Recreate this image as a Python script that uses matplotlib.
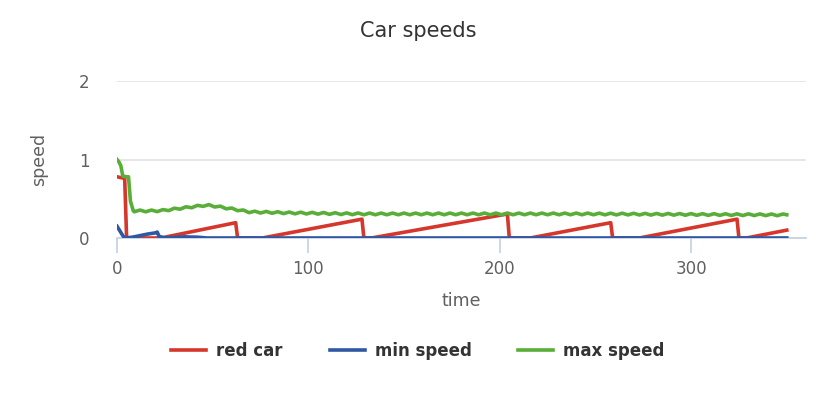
import matplotlib
matplotlib.use("Agg")
from matplotlib import pyplot as plt

plt.rcParams['font.family'] = ['DejaVu Sans']

# red car speed (sawtooth)
red_time = [0, 4, 5, 23, 62, 63, 76, 128, 129, 133, 204, 205, 216, 258, 259, 273, 324, 325, 329, 350]
red_speed = [0.78, 0.76, 0.0, 0.0, 0.195, 0.0, 0.0, 0.24, 0.0, 0.0, 0.306, 0.0, 0.0, 0.195, 0.0, 0.0, 0.24, 0.0, 0.0, 0.10]

# min speed
min_time = [0, 1, 3, 4, 8, 12, 16, 20, 21, 22, 25, 31, 35, 38, 42, 47, 350]
min_speed = [0.15, 0.11, 0.03, 0.0, 0.01, 0.03, 0.05, 0.065, 0.075, 0.02, 0.0, 0.008, 0.015, 0.012, 0.01, 0.0, 0.0]

# max speed
max_time = [0, 1, 2, 3, 5, 6, 7, 8.5,
            9, 12, 15, 18, 21, 24, 27, 30, 33, 36, 39, 42, 45, 48, 51, 54, 57, 60,
            63, 66, 69, 72, 75, 78, 81, 84, 87, 90, 93, 96, 99, 102, 105, 108, 111,
            114, 117, 120, 123, 126, 129, 132, 135, 138, 141, 144, 147, 150, 153,
            156, 159, 162, 165, 168, 171, 174, 177, 180, 183, 186, 189, 192, 195,
            198, 201, 204, 207, 210, 213, 216, 219, 222, 225, 228, 231, 234, 237,
            240, 243, 246, 249, 252, 255, 258, 261, 264, 267, 270, 273, 276, 279,
            282, 285, 288, 291, 294, 297, 300, 303, 306, 309, 312, 315, 318, 321,
            324, 327, 330, 333, 336, 339, 342, 345, 348, 350]
max_speed = [1.00, 0.97, 0.92, 0.79, 0.78, 0.78, 0.47, 0.345,
             0.334, 0.356, 0.334, 0.356, 0.336, 0.362, 0.349, 0.380, 0.367, 0.398, 0.385, 0.416, 0.403, 0.426, 0.395, 0.406, 0.372, 0.382,
             0.348, 0.357, 0.323, 0.342, 0.318, 0.339, 0.315, 0.335, 0.311, 0.331, 0.308, 0.329, 0.306, 0.327, 0.304, 0.325, 0.301,
             0.322, 0.299, 0.320, 0.297, 0.319, 0.296, 0.318, 0.296, 0.318, 0.296, 0.318, 0.296, 0.318, 0.296,
             0.318, 0.296, 0.318, 0.296, 0.318, 0.296, 0.318, 0.296, 0.318, 0.296, 0.318, 0.296, 0.318, 0.296,
             0.318, 0.296, 0.318, 0.296, 0.318, 0.296, 0.318, 0.296, 0.318, 0.296, 0.318, 0.296, 0.318, 0.296,
             0.318, 0.296, 0.318, 0.296, 0.317, 0.295, 0.316, 0.294, 0.316, 0.294, 0.315, 0.293, 0.314, 0.292,
             0.313, 0.291, 0.313, 0.291, 0.312, 0.290, 0.311, 0.289, 0.310, 0.288, 0.310, 0.288, 0.309, 0.287,
             0.308, 0.286, 0.308, 0.286, 0.307, 0.285, 0.306, 0.284, 0.306, 0.296]

x_ticks = [0, 100, 200, 300]
y_ticks = [0, 1, 2]

fig = plt.figure(figsize=(8.36, 3.94), dpi=100)
ax = fig.add_axes([0.14, 0.396, 0.824, 0.398])

lw = 2.6
ax.plot(red_time, red_speed, color='#d5372c', lw=lw, label='red car', solid_joinstyle='round', zorder=3)
ax.plot(min_time, min_speed, color='#2f58a4', lw=lw, label='min speed', solid_joinstyle='round', zorder=4)
ax.plot(max_time, max_speed, color='#58ae38', lw=lw, label='max speed', solid_joinstyle='round', zorder=5)

ax.set_xlim(0, 360)
ax.set_ylim(0, 2)
ax.set_xticks(x_ticks)
ax.set_yticks(y_ticks)
for s in ['top', 'right', 'left']:
    ax.spines[s].set_visible(False)
ax.spines['bottom'].set_color('#c4d0e2')
ax.spines['bottom'].set_linewidth(1.2)
ax.spines['bottom'].set_zorder(2)
ax.yaxis.grid(True, color='#e2e2e2', lw=1.2)
ax.set_axisbelow(True)
ax.tick_params(axis='x', length=11, width=1.2, color='#c4d0e2', labelsize=12, labelcolor='#606060', pad=5)
ax.tick_params(axis='y', length=0, labelsize=12, labelcolor='#606060', pad=20)

ax.set_xlabel('time', fontsize=12.5, color='#606060', labelpad=10)
ax.set_ylabel('speed', fontsize=12.5, color='#606060', labelpad=22)
fig.text(0.5, 1 - 31 / 394, 'Car speeds', ha='center', va='center', fontsize=15, color='#333333')

fig.legend(loc='center', bbox_to_anchor=(0.5, 1 - 351 / 394), ncol=3, frameon=False,
           prop={'weight': 'bold', 'size': 12}, labelcolor='#333333',
           handlelength=2.1, columnspacing=2.8, handletextpad=0.6)

fig.savefig('out.png', dpi=100)
